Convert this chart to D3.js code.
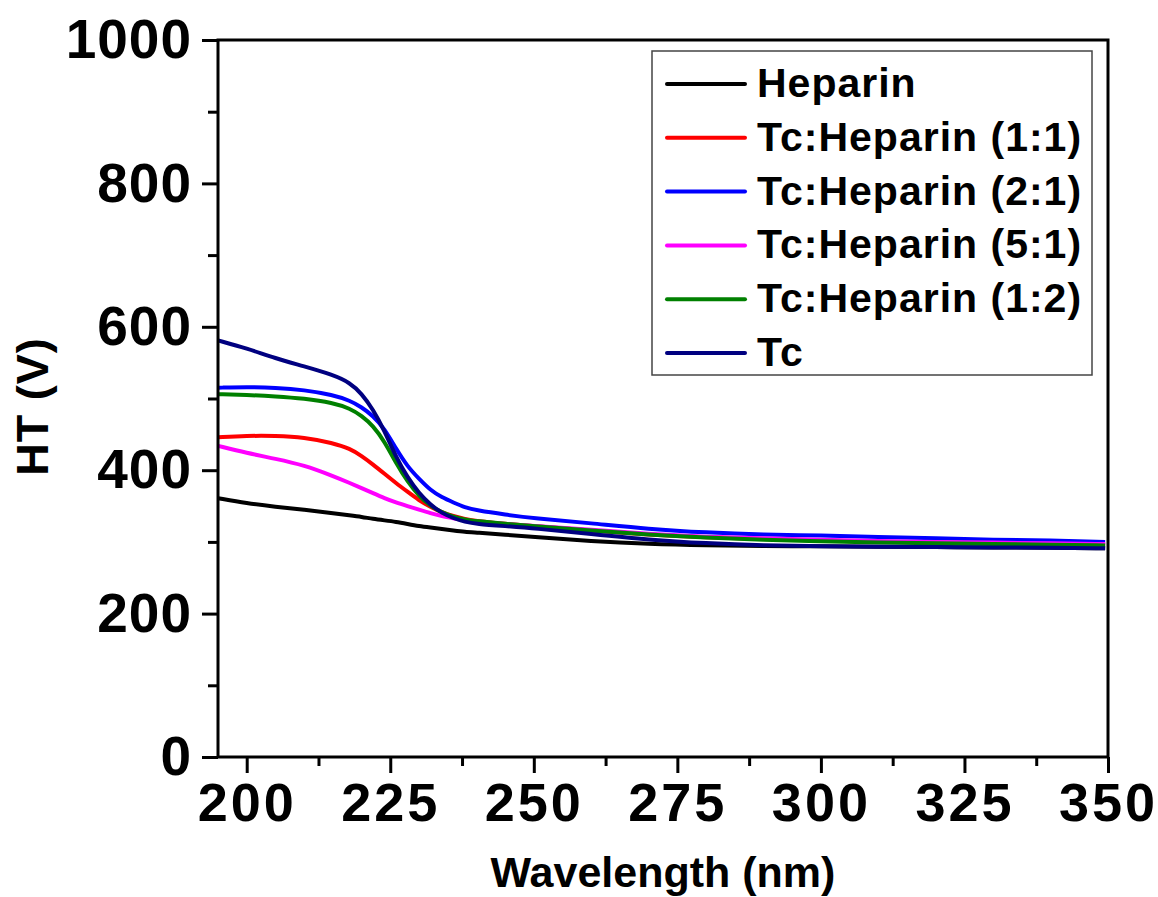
<!DOCTYPE html>
<html>
<head>
<meta charset="utf-8">
<script src="https://cdn.jsdelivr.net/npm/d3@7"></script>
<style>
  html, body { margin: 0; padding: 0; background: #fff; }
  svg { display: block; font-family: Arial, "Liberation Sans", sans-serif; font-weight: bold; }
</style>
</head>
<body>
<svg id="chart" width="1158" height="897"></svg>
<script>
// ---- data ----
const wavelength = [195,200,205,210,215,218,220,222,224,226,228,230,232,234,236,238,240,245,250,260,270,280,290,300,310,320,330,340,349.5];
const heparin   = [361,354,349,345,340,337,335,332,330,328,325,322,320,318,316,314,313,310,307,301,297,295,294,294,293,293,292,292,291];
const tcHep11   = [446,448,448,446,438,430,420,408,395,382,370,358,349,341,336,332,329,325,322,316,310,306,304,302,300,299,298,297,296];
const tcHep21   = [515,516,515,512,505,497,488,476,458,430,405,388,372,362,355,348,344,338,333,326,318,313,310,309,307,305,303,302,300];
const tcHep51   = [434,424,416,407,392,382,375,368,361,355,350,345,340,336,333,330,328,325,322,317,311,307,305,303,301,300,299,298,297];
const tcHep12   = [506,505,503,500,494,486,476,462,440,410,384,364,350,341,335,331,329,325,322,316,310,306,303,301,299,298,297,296,295];
const tc        = [581,570,556,545,533,522,507,485,455,418,390,368,352,340,333,328,325,322,319,311,303,298,295,294,293,293,292,292,291];

const seriesNames  = ["Heparin", "Tc:Heparin (1:1)", "Tc:Heparin (2:1)", "Tc:Heparin (5:1)", "Tc:Heparin (1:2)", "Tc"];
const seriesValues = [heparin, tcHep11, tcHep21, tcHep51, tcHep12, tc];
const seriesColors = ["#000000", "#ff0000", "#0000ff", "#ff00ff", "#008000", "#000080"];

const xMajorTicks = [200, 225, 250, 275, 300, 325, 350];
const xMinorTicks = [212.5, 237.5, 262.5, 287.5, 312.5, 337.5];
const yMajorTicks = [0, 200, 400, 600, 800, 1000];
const yMinorTicks = [100, 300, 500, 700, 900];

const xTitle = "Wavelength (nm)";
const yTitle = "HT (V)";

// ---- layout ----
const svg = d3.select("#chart");
const L = 218, R = 1108, T = 40, B = 757;

const x = d3.scaleLinear().domain([195, 350]).range([L, R]);
const y = d3.scaleLinear().domain([0, 1000]).range([B, T]);

// series
const line = d3.line()
  .x(d => x(d[0]))
  .y(d => y(d[1]))
  .curve(d3.curveBasis);

const plot = svg.append("g");
seriesValues.forEach((vals, i) => {
  const pts = wavelength.map((w, j) => [w, vals[j]]);
  plot.append("path")
    .attr("d", line(pts))
    .attr("fill", "none")
    .attr("stroke", seriesColors[i])
    .attr("stroke-width", 4)
    .attr("stroke-linejoin", "round");
});

// frame
svg.append("rect")
  .attr("x", L).attr("y", T)
  .attr("width", R - L).attr("height", B - T)
  .attr("fill", "none").attr("stroke", "#000").attr("stroke-width", 3);

// axes
function styleAxis(g) {
  g.select(".domain").remove();
  g.selectAll(".tick line").attr("stroke", "#000").attr("stroke-width", 3);
}

const xAxis = svg.append("g").attr("transform", `translate(0,${B})`)
  .call(d3.axisBottom(x).tickValues(xMajorTicks).tickSize(16).tickPadding(10).tickFormat(d3.format("d")));
styleAxis(xAxis);
xAxis.selectAll("text").attr("font-size", 54).attr("font-weight", "bold")
  .attr("font-family", "Arial, 'Liberation Sans', sans-serif").attr("fill", "#000")
  .attr("letter-spacing", 3);

const xAxisMinor = svg.append("g").attr("transform", `translate(0,${B})`)
  .call(d3.axisBottom(x).tickValues(xMinorTicks).tickSize(9).tickFormat(""));
styleAxis(xAxisMinor);

const yAxis = svg.append("g").attr("transform", `translate(${L},0)`)
  .call(d3.axisLeft(y).tickValues(yMajorTicks).tickSize(16).tickPadding(10).tickFormat(d3.format("d")));
styleAxis(yAxis);
yAxis.selectAll("text").attr("font-size", 55).attr("font-weight", "bold")
  .attr("font-family", "Arial, 'Liberation Sans', sans-serif").attr("fill", "#000")
  .attr("letter-spacing", 1);

const yAxisMinor = svg.append("g").attr("transform", `translate(${L},0)`)
  .call(d3.axisLeft(y).tickValues(yMinorTicks).tickSize(10).tickFormat(""));
styleAxis(yAxisMinor);

// titles
svg.append("text")
  .attr("x", (L + R) / 2).attr("y", 887)
  .attr("text-anchor", "middle")
  .attr("font-size", 43)
  .text(xTitle);

svg.append("text")
  .attr("transform", `translate(48,${(T + B) / 2 + 8}) rotate(-90)`)
  .attr("text-anchor", "middle")
  .attr("font-size", 45)
  .attr("letter-spacing", 1)
  .text(yTitle);

// legend
const lg = svg.append("g");
lg.append("rect")
  .attr("x", 652).attr("y", 51)
  .attr("width", 1092 - 652).attr("height", 375 - 51)
  .attr("fill", "#fff").attr("stroke", "#444").attr("stroke-width", 1.5);

seriesNames.forEach((name, i) => {
  const by = 97 + i * 53.8;
  lg.append("line")
    .attr("x1", 667).attr("x2", 745)
    .attr("y1", by - 13).attr("y2", by - 13)
    .attr("stroke", seriesColors[i]).attr("stroke-width", 4)
    .attr("stroke-linecap", "round");
  lg.append("text")
    .attr("x", 757).attr("y", by)
    .attr("font-size", 41)
    .attr("letter-spacing", 1)
    .text(name);
});
</script>
</body>
</html>
